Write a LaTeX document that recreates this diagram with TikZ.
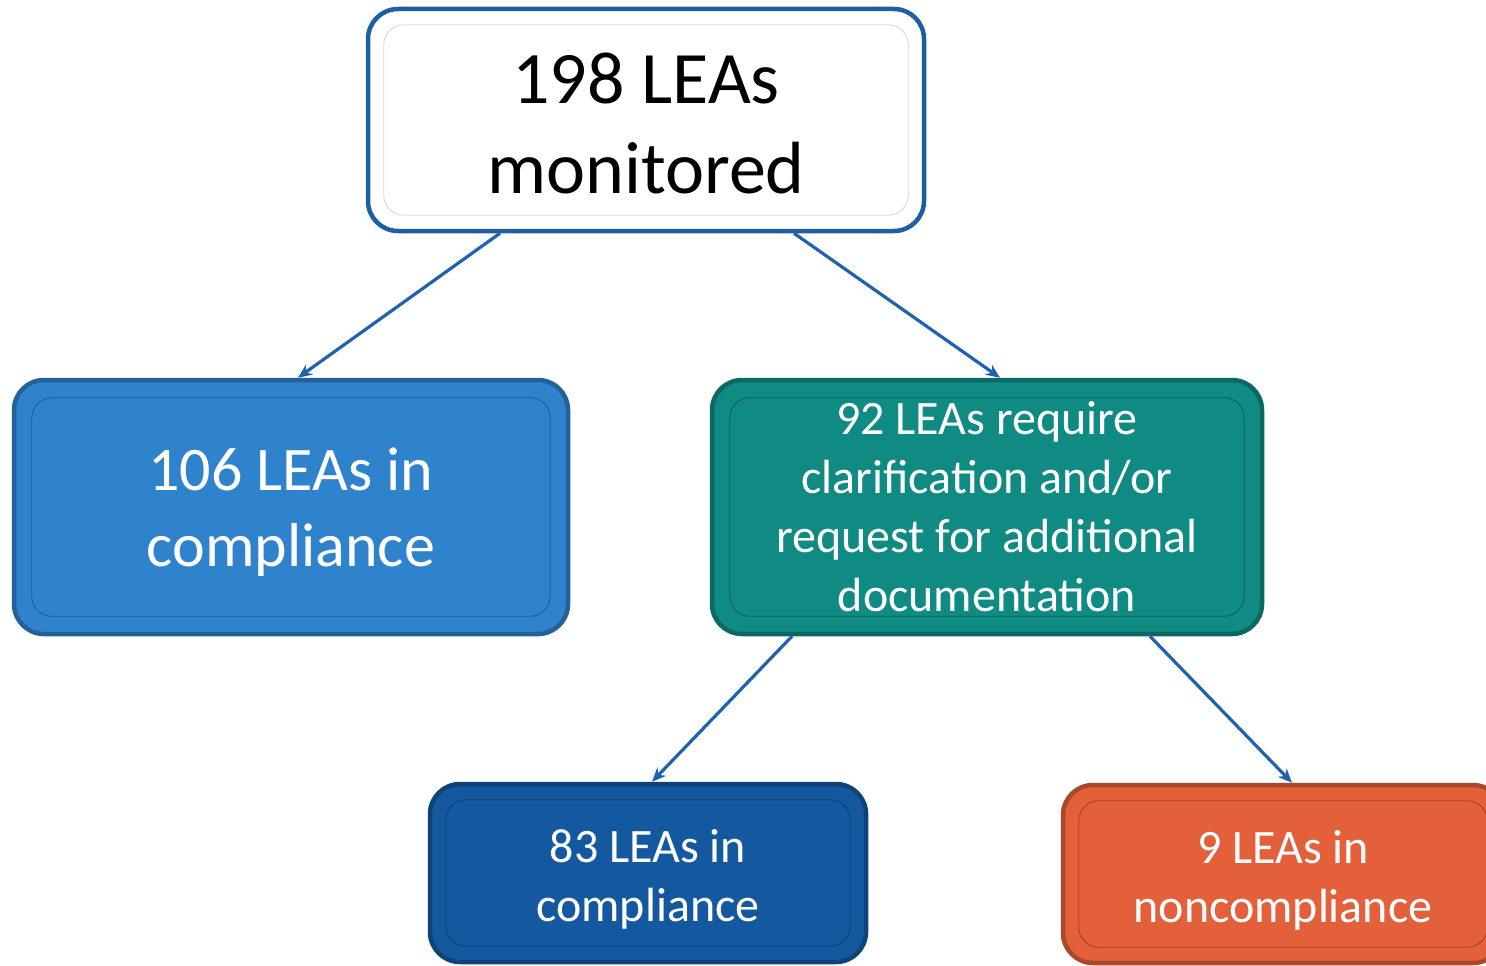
\documentclass[tikz,border=0pt]{standalone}
\usepackage{fontspec}
\setmainfont{Carlito}
\usetikzlibrary{arrows.meta}
\definecolor{topborder}{HTML}{1F5F9F}
\definecolor{arrowblue}{HTML}{1E62B0}
\definecolor{cblue}{HTML}{2E83CC}
\definecolor{cteal}{HTML}{0F8B83}
\definecolor{cdark}{HTML}{14599F}
\definecolor{corange}{HTML}{E3603A}
\tikzset{
  box/.style={rounded corners=30pt, align=center, text=white, line width=4.5pt, inner sep=0pt},
  bigfont/.style={font=\fontsize{74}{90}\selectfont},
  midfont/.style={font=\fontsize{62}{76}\selectfont},
  smallfont/.style={font=\fontsize{48}{59}\selectfont},
  inner/.style={rounded corners=20pt, line width=0.9pt},
  conn/.style={draw=arrowblue, line width=3.2pt, -{Stealth[length=14pt,width=12pt]}},
}
\begin{document}
\begin{tikzpicture}[x=1pt,y=-1pt]
\useasboundingbox (0,0) rectangle (1486,966);
% boxes
\node[box, bigfont, fill=white, draw=topborder, text=black, minimum width=556pt, minimum height=222pt] (top) at (646,120) {\rule{0pt}{58pt}198 LEAs\\monitored};
\node[box, midfont, fill=cblue, draw=cblue!75!black, minimum width=554pt, minimum height=254pt] (left) at (291,507) {\rule{0pt}{52pt}106 LEAs in\\compliance};
\node[box, smallfont, fill=cteal, draw=cteal!75!black, minimum width=550pt, minimum height=254pt] (mid) at (987,507) {92 LEAs require\\clarification and/or\\request for additional\\documentation};
\node[box, smallfont, fill=cdark, draw=cdark!75!black, minimum width=436pt, minimum height=178pt] (bl) at (648,873) {\rule{0pt}{45pt}83 LEAs in\\compliance};
\node[box, smallfont, fill=corange, draw=corange!75!black, minimum width=440pt, minimum height=178pt] (br) at (1283,874) {\rule{0pt}{45pt}9 LEAs in\\noncompliance};
% inner bevel lines
\draw[inner, draw=black!15] ([shift={(18pt,-18pt)}]top.north west) rectangle ([shift={(-18pt,18pt)}]top.south east);
\draw[inner, draw=cblue!70!black] ([shift={(20pt,-20pt)}]left.north west) rectangle ([shift={(-20pt,20pt)}]left.south east);
\draw[inner, draw=cteal!70!black] ([shift={(20pt,-20pt)}]mid.north west) rectangle ([shift={(-20pt,20pt)}]mid.south east);
\draw[inner, draw=cdark!70!black] ([shift={(18pt,-18pt)}]bl.north west) rectangle ([shift={(-18pt,18pt)}]bl.south east);
\draw[inner, draw=corange!70!black] ([shift={(18pt,-18pt)}]br.north west) rectangle ([shift={(-18pt,18pt)}]br.south east);
% connectors
\draw[conn] ([xshift=-146pt]top.south) -- ([xshift=7pt]left.north);
\draw[conn] ([xshift=148pt]top.south) -- ([xshift=13pt]mid.north);
\draw[conn] ([xshift=-195pt]mid.south) -- ([xshift=4pt]bl.north);
\draw[conn] ([xshift=163pt]mid.south) -- ([xshift=9pt]br.north);
\end{tikzpicture}
\end{document}
